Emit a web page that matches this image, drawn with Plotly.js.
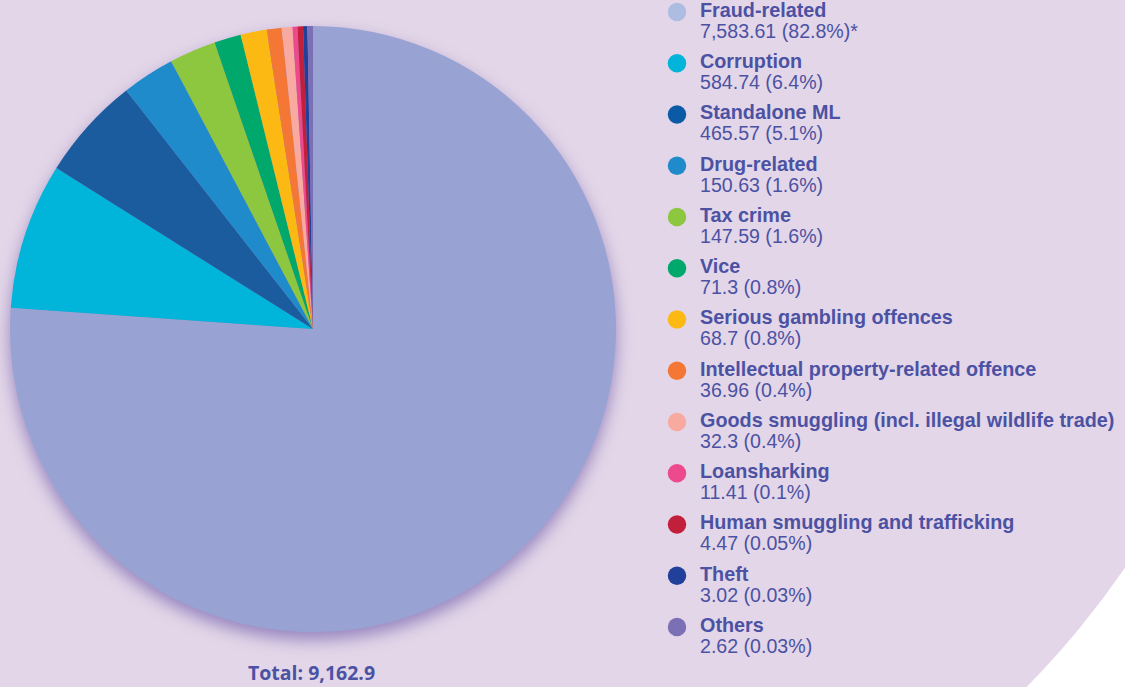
<!DOCTYPE html>
<html>
<head>
<meta charset="utf-8">
<script src="https://cdn.plot.ly/plotly-3.0.1.min.js"></script>
<style>
  html, body { margin: 0; padding: 0; background: #ffffff; }
  #chart { width: 1125px; height: 687px; }
  #chart .pielayer { filter: drop-shadow(0px 8px 8px rgba(100, 80, 165, 0.6)); }
</style>
</head>
<body>
<div id="chart"></div>
<script>
// ---- data ----
const categories = [
  'Fraud-related', 'Corruption', 'Standalone ML', 'Drug-related', 'Tax crime', 'Vice',
  'Serious gambling offences', 'Intellectual property-related offence',
  'Goods smuggling (incl. illegal wildlife trade)', 'Loansharking',
  'Human smuggling and trafficking', 'Theft', 'Others'
];
const amounts = [7583.61, 584.74, 465.57, 150.63, 147.59, 71.3, 68.7, 36.96, 32.3, 11.41, 4.47, 3.02, 2.62];
const percents = [82.8, 6.4, 5.1, 1.6, 1.6, 0.8, 0.8, 0.4, 0.4, 0.1, 0.05, 0.03, 0.03];
const footnotes = ['*', '', '', '', '', '', '', '', '', '', '', '', ''];
// slice angles as drawn in the original graphic (degrees; small slices are enlarged there)
const drawnSliceDegrees = [273.9, 28.1, 19.84, 10.13, 8.96, 5.13, 5.01, 2.86, 2.04, 0.95, 1.06, 0.83, 1.06];
const colors = ['#98a3d4', '#00b5d9', '#1a5c9e', '#1f8bcb', '#8dc63f', '#00a86b', '#fdb913',
                '#f47735', '#f8aaa0', '#ec4a8c', '#c21f3a', '#21409a', '#7b6fb5'];
const legendColors = ['#adbde2', '#00b5d9', '#0b5aa6', '#1f8bcb', '#8dc63f', '#00a86b', '#fdb913',
                '#f47735', '#f8aaa0', '#ec4a8c', '#c21f3a', '#21409a', '#7b6fb5'];
const totalLabel = 'Total: 9,162.9';

// ---- build ----
const textColor = '#4b52a3';
const legendFont = 'Arial';
const fmt = v => v.toLocaleString('en-US', {maximumFractionDigits: 2});
const idx = categories.map((_, i) => i);

const pie = {
  type: 'pie',
  labels: categories,
  values: drawnSliceDegrees,
  sort: false,
  direction: 'clockwise',
  rotation: 0,
  marker: { colors: colors, line: { width: 0 } },
  textinfo: 'none',
  hoverinfo: 'skip',
  showlegend: false,
  domain: { x: [10 / 1125, 616 / 1125], y: [1 - 632 / 687, 1 - 26 / 687] }
};

const legendDots = {
  type: 'scatter', mode: 'markers',
  x: idx.map(() => 677), y: idx,
  marker: { size: 18.5, color: legendColors, line: { width: 0 } },
  hoverinfo: 'skip', showlegend: false, cliponaxis: false
};
const legendNames = {
  type: 'scatter', mode: 'text',
  x: idx.map(() => 700), y: idx,
  text: categories.map(c => '<b>' + c + '</b>'),
  textposition: 'middle right',
  textfont: { family: legendFont, size: 19.8, color: textColor },
  hoverinfo: 'skip', showlegend: false, cliponaxis: false
};
const legendValues = {
  type: 'scatter', mode: 'text',
  x: idx.map(() => 700), y: idx.map(i => i + 0.41),
  text: idx.map(i => fmt(amounts[i]) + ' (' + percents[i] + '%)' + footnotes[i]),
  textposition: 'middle right',
  textfont: { family: legendFont, size: 19.6, color: textColor },
  hoverinfo: 'skip', showlegend: false, cliponaxis: false
};

const rowPx = 51.25, firstRowPx = 12;
const layout = {
  width: 1125, height: 687,
  margin: { l: 0, r: 0, t: 0, b: 0, pad: 0 },
  paper_bgcolor: '#ffffff',
  plot_bgcolor: 'rgba(0,0,0,0)',
  showlegend: false,
  font: { family: legendFont },
  xaxis: { range: [0, 1125], visible: false, fixedrange: true, domain: [0, 1] },
  yaxis: { range: [(687 - firstRowPx) / rowPx, -firstRowPx / rowPx], visible: false, fixedrange: true, domain: [0, 1] },
  shapes: [{
    type: 'circle', xref: 'paper', yref: 'paper', layer: 'below',
    x0: (396 - 885) / 1125, x1: (396 + 885) / 1125,
    y0: 1 - (66 + 885) / 687, y1: 1 - (66 - 885) / 687,
    fillcolor: '#e3d6e8', line: { width: 0 }
  }],
  annotations: [{
    xref: 'paper', yref: 'paper', x: 311 / 1125, y: 1 - 672 / 687,
    xanchor: 'center', yanchor: 'middle', showarrow: false,
    text: '<b>' + totalLabel + '</b>',
    font: { family: 'Open Sans', size: 19.5, color: textColor }
  }]
};

Plotly.newPlot('chart', [pie, legendDots, legendNames, legendValues], layout, { staticPlot: true, displayModeBar: false });
</script>
</body>
</html>
